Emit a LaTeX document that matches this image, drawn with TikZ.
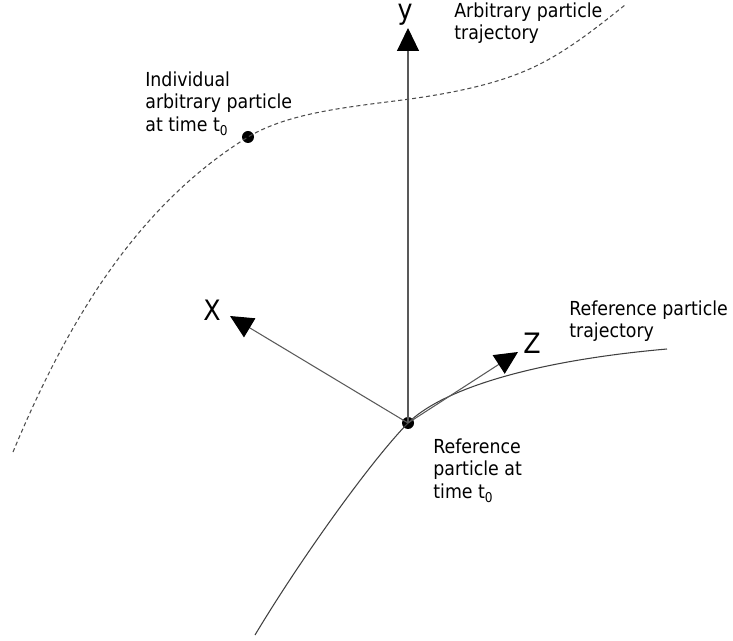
\documentclass[tikz,border=0pt]{standalone}
\usepackage{fontspec}
\setmainfont{DejaVu Sans Condensed}
\usepackage{tikz}
\usetikzlibrary{arrows.meta}

\begin{document}
\begin{tikzpicture}[
    x=0.02cm, y=-0.02cm,
    every node/.style={inner sep=0pt},
    txt/.style={font=\fontsize{11}{13}\selectfont, align=left, anchor=north west},
    axlabel/.style={font=\fontsize{16}{18}\selectfont},
    dot/.style={circle, fill=black, minimum size=0.24cm},
    axis/.style={draw=black!65, line width=0.6pt,
        -{Triangle[color=black, length=0.46cm, width=0.44cm]}},
    traj/.style={draw=black!75, line width=0.6pt},
    arbtraj/.style={draw=black!70, line width=0.6pt,
        dash pattern=on 2.3pt off 1.7pt}
]
\useasboundingbox (0,0) rectangle (733,641);

% particles
\node[dot] (origin) at (408,423) {};
\node[dot] (particle) at (248,137) {};

% trajectories
\draw[traj] (255,635) .. controls (300,560) and (370,462) .. (origin.center)
    .. controls (438,393) and (520,362) .. (667,349);
\draw[arbtraj] (13,452) .. controls (72,310) and (143,202) .. (particle.center)
    .. controls (290,112) and (350,107) .. (410,99)
    .. controls (460,92) and (505,82) .. (540,64)
    .. controls (570,49) and (600,25) .. (625,5);

% axes
\coordinate (ytip) at (408,28);
\coordinate (xtip) at (230,316);
\coordinate (ztip) at (518,352);
\draw[axis] (origin.center) -- (ytip);
\draw[axis] (origin.center) -- (xtip);
\draw[axis] (origin.center) -- (ztip);

\node[axlabel, anchor=base] (ylabel) at (405,20) {y};
\node[axlabel] (xlabel) at (212,310) {X};
\node[axlabel] (zlabel) at (532,343) {Z};

% labels
\node[txt] (arbtext) at (454,2) {Arbitrary particle\\trajectory};
\node[txt] (indtext) at (145,71) {Individual\\arbitrary particle\\at time t\textsubscript{0}};
\node[txt] (reftext) at (569,300) {Reference particle\\trajectory};
\node[txt] (origtext) at (433,438) {Reference\\particle at\\time t\textsubscript{0}};

\end{tikzpicture}
\end{document}
